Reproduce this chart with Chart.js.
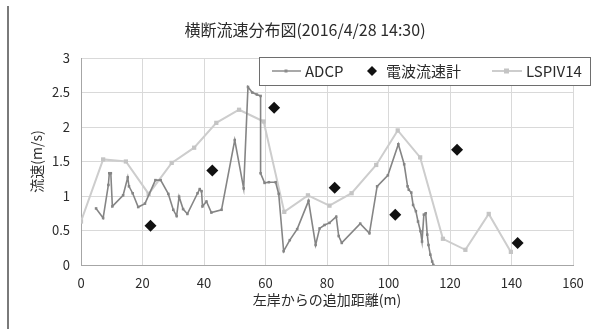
<!DOCTYPE html>
<html>
<head>
<meta charset="utf-8">
<script src="https://cdn.jsdelivr.net/npm/chart.js@4.4.1/dist/chart.umd.min.js"></script>
<style>
    html, body { margin: 0; padding: 0; background: #fff; }
    #wrap { width: 596px; height: 329px; position: relative; }
</style>
</head>
<body>
<div id="wrap"><canvas id="myChart" width="596" height="329"></canvas></div>
<script>
const chartTitle = '横断流速分布図(2016/4/28 14:30)';
const xTitle = '左岸からの追加距離(m)';
const yTitle = '流速(m/s)';
const seriesNames = ['ADCP', '電波流速計', 'LSPIV14'];

const adcpX = [4.9, 7.2, 8.9, 9.2, 9.7, 10.2, 13.7, 15.2, 15.6, 16.8, 18.6, 20.8, 24.2, 25.9, 28.4, 30.0, 31.1, 31.9, 33.2, 34.6,
    37.9, 38.6, 39.2, 39.5, 40.8, 42.4, 45.7, 50.0, 52.9, 54.3, 55.7, 57.2, 58.4, 58.4, 59.7, 61.1, 63.3, 64.3, 65.9, 67.9,
    70.3, 74.0, 76.3, 77.6, 79.2, 80.8, 83.0, 83.8, 84.8, 90.8, 93.8, 96.3, 99.8, 103.2, 105.1, 106.2, 106.6, 107.4, 108.0, 108.9,
    109.6, 110.4, 110.9, 111.5, 112.1, 112.6, 113.0, 113.6, 114.2, 114.6];
const adcpY = [0.82, 0.68, 1.16, 1.33, 1.33, 0.85, 1.01, 1.27, 1.14, 1.04, 0.84, 0.89, 1.23, 1.23, 1.03, 0.80, 0.71, 0.99, 0.81, 0.74,
    1.04, 1.10, 1.07, 0.85, 0.92, 0.76, 0.80, 1.81, 1.11, 2.58, 2.50, 2.47, 2.45, 1.33, 1.19, 1.20, 1.20, 1.03, 0.20, 0.36,
    0.52, 0.93, 0.29, 0.53, 0.58, 0.61, 0.70, 0.42, 0.32, 0.60, 0.46, 1.14, 1.30, 1.75, 1.46, 1.14, 1.09, 1.05, 0.87, 0.78,
    0.63, 0.49, 0.34, 0.73, 0.75, 0.44, 0.29, 0.15, 0.05, 0.00];

const denpaX = [22.6, 42.7, 62.8, 82.5, 102.2, 122.3, 142.0];
const denpaY = [0.57, 1.37, 2.28, 1.12, 0.73, 1.67, 0.32];

const lspivX = [0, 7.2, 14.6, 22.0, 29.5, 36.8, 44.0, 51.4, 59.4, 66.1, 73.8, 80.8, 88.0, 96.0, 103.0, 110.3, 117.7, 125.0, 132.6, 139.8];
const lspivY = [0.63, 1.53, 1.50, 1.03, 1.48, 1.70, 2.06, 2.25, 2.08, 0.77, 1.01, 0.86, 1.04, 1.45, 1.95, 1.56, 0.38, 0.22, 0.74, 0.19];

const xTicks = [0, 20, 40, 60, 80, 100, 120, 140, 160];
const yTicks = [0, 0.5, 1, 1.5, 2, 2.5, 3];

const toPoints = (xs, ys) => xs.map((x, i) => ({ x: x, y: ys[i] }));

const FONT = "'Noto Sans CJK JP', 'Open Sans', sans-serif";
const TEXT = '#2b2b2b';

// page border, title and the legend that sits over the plot
const decorations = {
    id: 'decorations',
    beforeDraw(chart) {
        const ctx = chart.ctx;
        ctx.save();
        ctx.strokeStyle = '#7a7a7a';
        ctx.lineWidth = 2;
        ctx.beginPath();
        ctx.moveTo(8, 6);
        ctx.lineTo(8, 329);
        ctx.stroke();
        ctx.restore();
    },
    afterDraw(chart) {
        const ctx = chart.ctx;
        ctx.save();
        ctx.fillStyle = TEXT;
        ctx.font = '16px ' + FONT;
        ctx.textAlign = 'center';
        ctx.textBaseline = 'middle';
        ctx.fillText(chartTitle, 305, 30);

        // legend box
        const lx = 259, ly = 57, lw = 331, lh = 28, cy = ly + lh / 2;
        ctx.fillStyle = '#fff';
        ctx.fillRect(lx, ly, lw, lh);
        ctx.strokeStyle = '#6e6e6e';
        ctx.lineWidth = 1;
        ctx.strokeRect(lx + 0.5, ly + 0.5, lw, lh);

        ctx.font = '15px ' + FONT;
        ctx.textAlign = 'left';

        // ADCP
        ctx.strokeStyle = '#8c8c8c';
        ctx.lineWidth = 1.5;
        ctx.beginPath();
        ctx.moveTo(272, cy);
        ctx.lineTo(301, cy);
        ctx.stroke();
        ctx.fillStyle = '#8c8c8c';
        ctx.fillRect(284.5, cy - 1.5, 3, 3);
        ctx.fillStyle = TEXT;
        ctx.fillText(seriesNames[0], 305, cy);

        // 電波流速計
        ctx.fillStyle = '#111';
        ctx.beginPath();
        ctx.moveTo(372, cy - 5);
        ctx.lineTo(377, cy);
        ctx.lineTo(372, cy + 5);
        ctx.lineTo(367, cy);
        ctx.closePath();
        ctx.fill();
        ctx.fillStyle = TEXT;
        ctx.fillText(seriesNames[1], 386, cy);

        // LSPIV14
        ctx.strokeStyle = '#cdcdcd';
        ctx.lineWidth = 2;
        ctx.beginPath();
        ctx.moveTo(492, cy);
        ctx.lineTo(522, cy);
        ctx.stroke();
        ctx.fillStyle = '#c4c4c4';
        ctx.fillRect(504, cy - 2.5, 5, 5);
        ctx.fillStyle = TEXT;
        ctx.fillText(seriesNames[2], 526, cy);
        ctx.restore();
    }
};

const ctx = document.getElementById('myChart').getContext('2d');
const myChart = new Chart(ctx, {
    type: 'scatter',
    data: {
        datasets: [
            {
                label: seriesNames[0],
                data: toPoints(adcpX, adcpY),
                showLine: true,
                borderColor: '#858585',
                backgroundColor: '#858585',
                borderWidth: 1.6,
                pointStyle: 'rect',
                pointRadius: 1.8,
                pointBorderWidth: 0,
                order: 2
            },
            {
                label: seriesNames[1],
                data: toPoints(denpaX, denpaY),
                showLine: false,
                borderColor: '#111',
                backgroundColor: '#111',
                pointStyle: 'rectRot',
                pointRadius: 6,
                pointBorderWidth: 0,
                order: 1
            },
            {
                label: seriesNames[2],
                data: toPoints(lspivX, lspivY),
                showLine: true,
                borderColor: '#cdcdcd',
                backgroundColor: '#c4c4c4',
                borderWidth: 2,
                pointStyle: 'rect',
                pointRadius: 3,
                pointBorderWidth: 0,
                order: 3
            }
        ]
    },
    options: {
        responsive: false,
        animation: false,
        layout: { padding: { left: 0, right: 23, top: 58, bottom: 0 } },
        plugins: {
            legend: { display: false },
            title: { display: false },
            tooltip: { enabled: false }
        },
        scales: {
            x: {
                type: 'linear',
                min: 0,
                max: 160,
                afterFit: (scale) => { scale.height = 64; },
                afterBuildTicks: (scale) => { scale.ticks = xTicks.map(v => ({ value: v })); },
                grid: { color: '#d9d9d9', drawTicks: false },
                border: { color: '#a6a6a6' },
                ticks: { color: TEXT, font: { family: FONT, size: 13 }, padding: 10, maxRotation: 0, callback: (v) => String(v) },
                title: { display: true, text: xTitle, color: TEXT, font: { family: FONT, size: 14 }, padding: { top: 0, bottom: 21 } }
            },
            y: {
                type: 'linear',
                min: 0,
                max: 3,
                afterFit: (scale) => { scale.width = 81; },
                afterBuildTicks: (scale) => { scale.ticks = yTicks.map(v => ({ value: v })); },
                grid: { color: '#d9d9d9', drawTicks: false },
                border: { color: '#a6a6a6' },
                ticks: { color: TEXT, font: { family: FONT, size: 13 }, padding: 11, callback: (v) => String(v) },
                title: { display: true, text: yTitle, color: TEXT, font: { family: FONT, size: 14 }, padding: { top: 28, bottom: 0 } }
            }
        }
    },
    plugins: [decorations]
});
</script>
</body>
</html>
